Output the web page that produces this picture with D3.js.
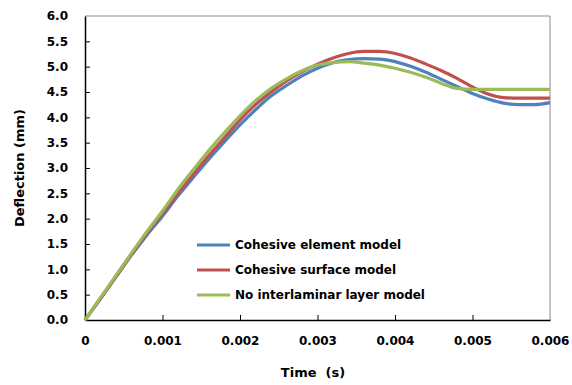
<!DOCTYPE html>
<html>
<head>
<meta charset="utf-8">
<script src="https://cdn.jsdelivr.net/npm/d3@7"></script>
<style>
  body { margin: 0; background: #fff; }
  text { font-family: "DejaVu Sans", Verdana, sans-serif; font-weight: bold; fill: #000; }
</style>
</head>
<body>
<div id="chart"></div>
<script>
const WIDTH = 572;
const HEIGHT = 385;
const margin = { top: 16, right: 22, bottom: 65, left: 85 };

// time samples (s)
const time = [0, 0.0002, 0.0004, 0.0006, 0.0008, 0.0010, 0.0012, 0.0014, 0.0016, 0.0018,
  0.0020, 0.0022, 0.0024, 0.0026, 0.0028, 0.0030, 0.0032, 0.0034, 0.0036, 0.0038,
  0.0040, 0.0042, 0.0044, 0.0046, 0.0048, 0.0050, 0.0052, 0.0054, 0.0056, 0.0058, 0.0060];

// deflection (mm)
const cohesiveElement = [0, 0.42, 0.85, 1.28, 1.68, 2.05, 2.45, 2.82, 3.18, 3.52,
  3.85, 4.15, 4.42, 4.63, 4.82, 4.97, 5.08, 5.14, 5.16, 5.15,
  5.10, 5.01, 4.89, 4.75, 4.61, 4.47, 4.36, 4.28, 4.25, 4.25, 4.29];
const cohesiveSurface = [0, 0.43, 0.86, 1.30, 1.72, 2.10, 2.50, 2.88, 3.25, 3.60,
  3.95, 4.25, 4.50, 4.72, 4.90, 5.05, 5.17, 5.26, 5.30, 5.30,
  5.26, 5.17, 5.05, 4.92, 4.77, 4.60, 4.46, 4.39, 4.38, 4.38, 4.38];
const noInterlaminar = [0, 0.44, 0.88, 1.32, 1.75, 2.15, 2.58, 2.97, 3.35, 3.70,
  4.03, 4.33, 4.57, 4.76, 4.92, 5.03, 5.08, 5.10, 5.07, 5.03,
  4.97, 4.89, 4.79, 4.67, 4.57, 4.55, 4.55, 4.55, 4.55, 4.55, 4.55];

const seriesNames = ['Cohesive element model', 'Cohesive surface model', 'No interlaminar layer model'];
const seriesColors = ['#4f81bd', '#c0504d', '#9bbb59'];
const xTicks = [0, 0.001, 0.002, 0.003, 0.004, 0.005, 0.006];
const yTicks = [0, 0.5, 1, 1.5, 2, 2.5, 3, 3.5, 4, 4.5, 5, 5.5, 6];

const series = [cohesiveElement, cohesiveSurface, noInterlaminar];

const svg = d3.select('#chart')
  .append('svg')
  .attr('width', WIDTH)
  .attr('height', HEIGHT);

const x = d3.scaleLinear().domain([0, 0.006]).range([margin.left, WIDTH - margin.right]);
const y = d3.scaleLinear().domain([0, 6]).range([HEIGHT - margin.bottom, margin.top]);

// frame: grey top/right, black axes
svg.append('path')
  .attr('d', `M${x(0)},${y(6)}H${x(0.006)}V${y(0)}`)
  .attr('fill', 'none')
  .attr('stroke', '#8c8c8c')
  .attr('stroke-width', 1);

const xAxis = svg.append('g')
  .attr('transform', `translate(0,${y(0)})`)
  .call(d3.axisBottom(x).tickValues(xTicks).tickSizeInner(-5).tickSizeOuter(0)
    .tickPadding(16).tickFormat(d => d === 0 ? '0' : d3.format('.3f')(d)));
xAxis.select('.domain').attr('stroke', '#000').attr('stroke-width', 1.5);
xAxis.selectAll('.tick line').attr('stroke', '#000');
xAxis.selectAll('.tick').filter(d => d === 0.006).select('line').remove();
xAxis.selectAll('text').attr('font-size', 12).style('font-family', '"DejaVu Sans", sans-serif');

const yAxis = svg.append('g')
  .attr('transform', `translate(${x(0)},0)`)
  .call(d3.axisLeft(y).tickValues(yTicks).tickSizeInner(-5).tickSizeOuter(0)
    .tickPadding(17).tickFormat(d3.format('.1f')));
yAxis.select('.domain').attr('stroke', '#000').attr('stroke-width', 1.5);
yAxis.selectAll('.tick line').attr('stroke', '#000');
yAxis.selectAll('.tick').filter(d => d === 6).select('line').remove();
yAxis.selectAll('text').attr('font-size', 12).style('font-family', '"DejaVu Sans", sans-serif');

// curves
const line = d3.line()
  .x((d, i) => x(time[i]))
  .y(d => y(d))
  .curve(d3.curveMonotoneX);

svg.selectAll('.curve')
  .data(series)
  .enter()
  .append('path')
  .attr('class', 'curve')
  .attr('d', line)
  .attr('fill', 'none')
  .attr('stroke', (d, i) => seriesColors[i])
  .attr('stroke-width', 3.2);

// legend
const legend = svg.append('g').attr('transform', 'translate(197,245)');
seriesNames.forEach((name, i) => {
  const row = legend.append('g').attr('transform', `translate(0,${i * 25})`);
  row.append('line')
    .attr('x1', 0).attr('x2', 33)
    .attr('stroke', seriesColors[i])
    .attr('stroke-width', 3);
  row.append('text')
    .attr('x', 38)
    .attr('dy', '0.35em')
    .attr('font-size', 12)
    .text(name);
});

// axis titles
svg.append('text')
  .attr('x', 313)
  .attr('y', 377)
  .attr('text-anchor', 'middle')
  .attr('font-size', 13)
  .style('white-space', 'pre')
  .text('Time  (s)');

svg.append('text')
  .attr('transform', `translate(24,${(y(0) + y(6)) / 2}) rotate(-90)`)
  .attr('text-anchor', 'middle')
  .attr('font-size', 13)
  .text('Deflection (mm)');
</script>
</body>
</html>
